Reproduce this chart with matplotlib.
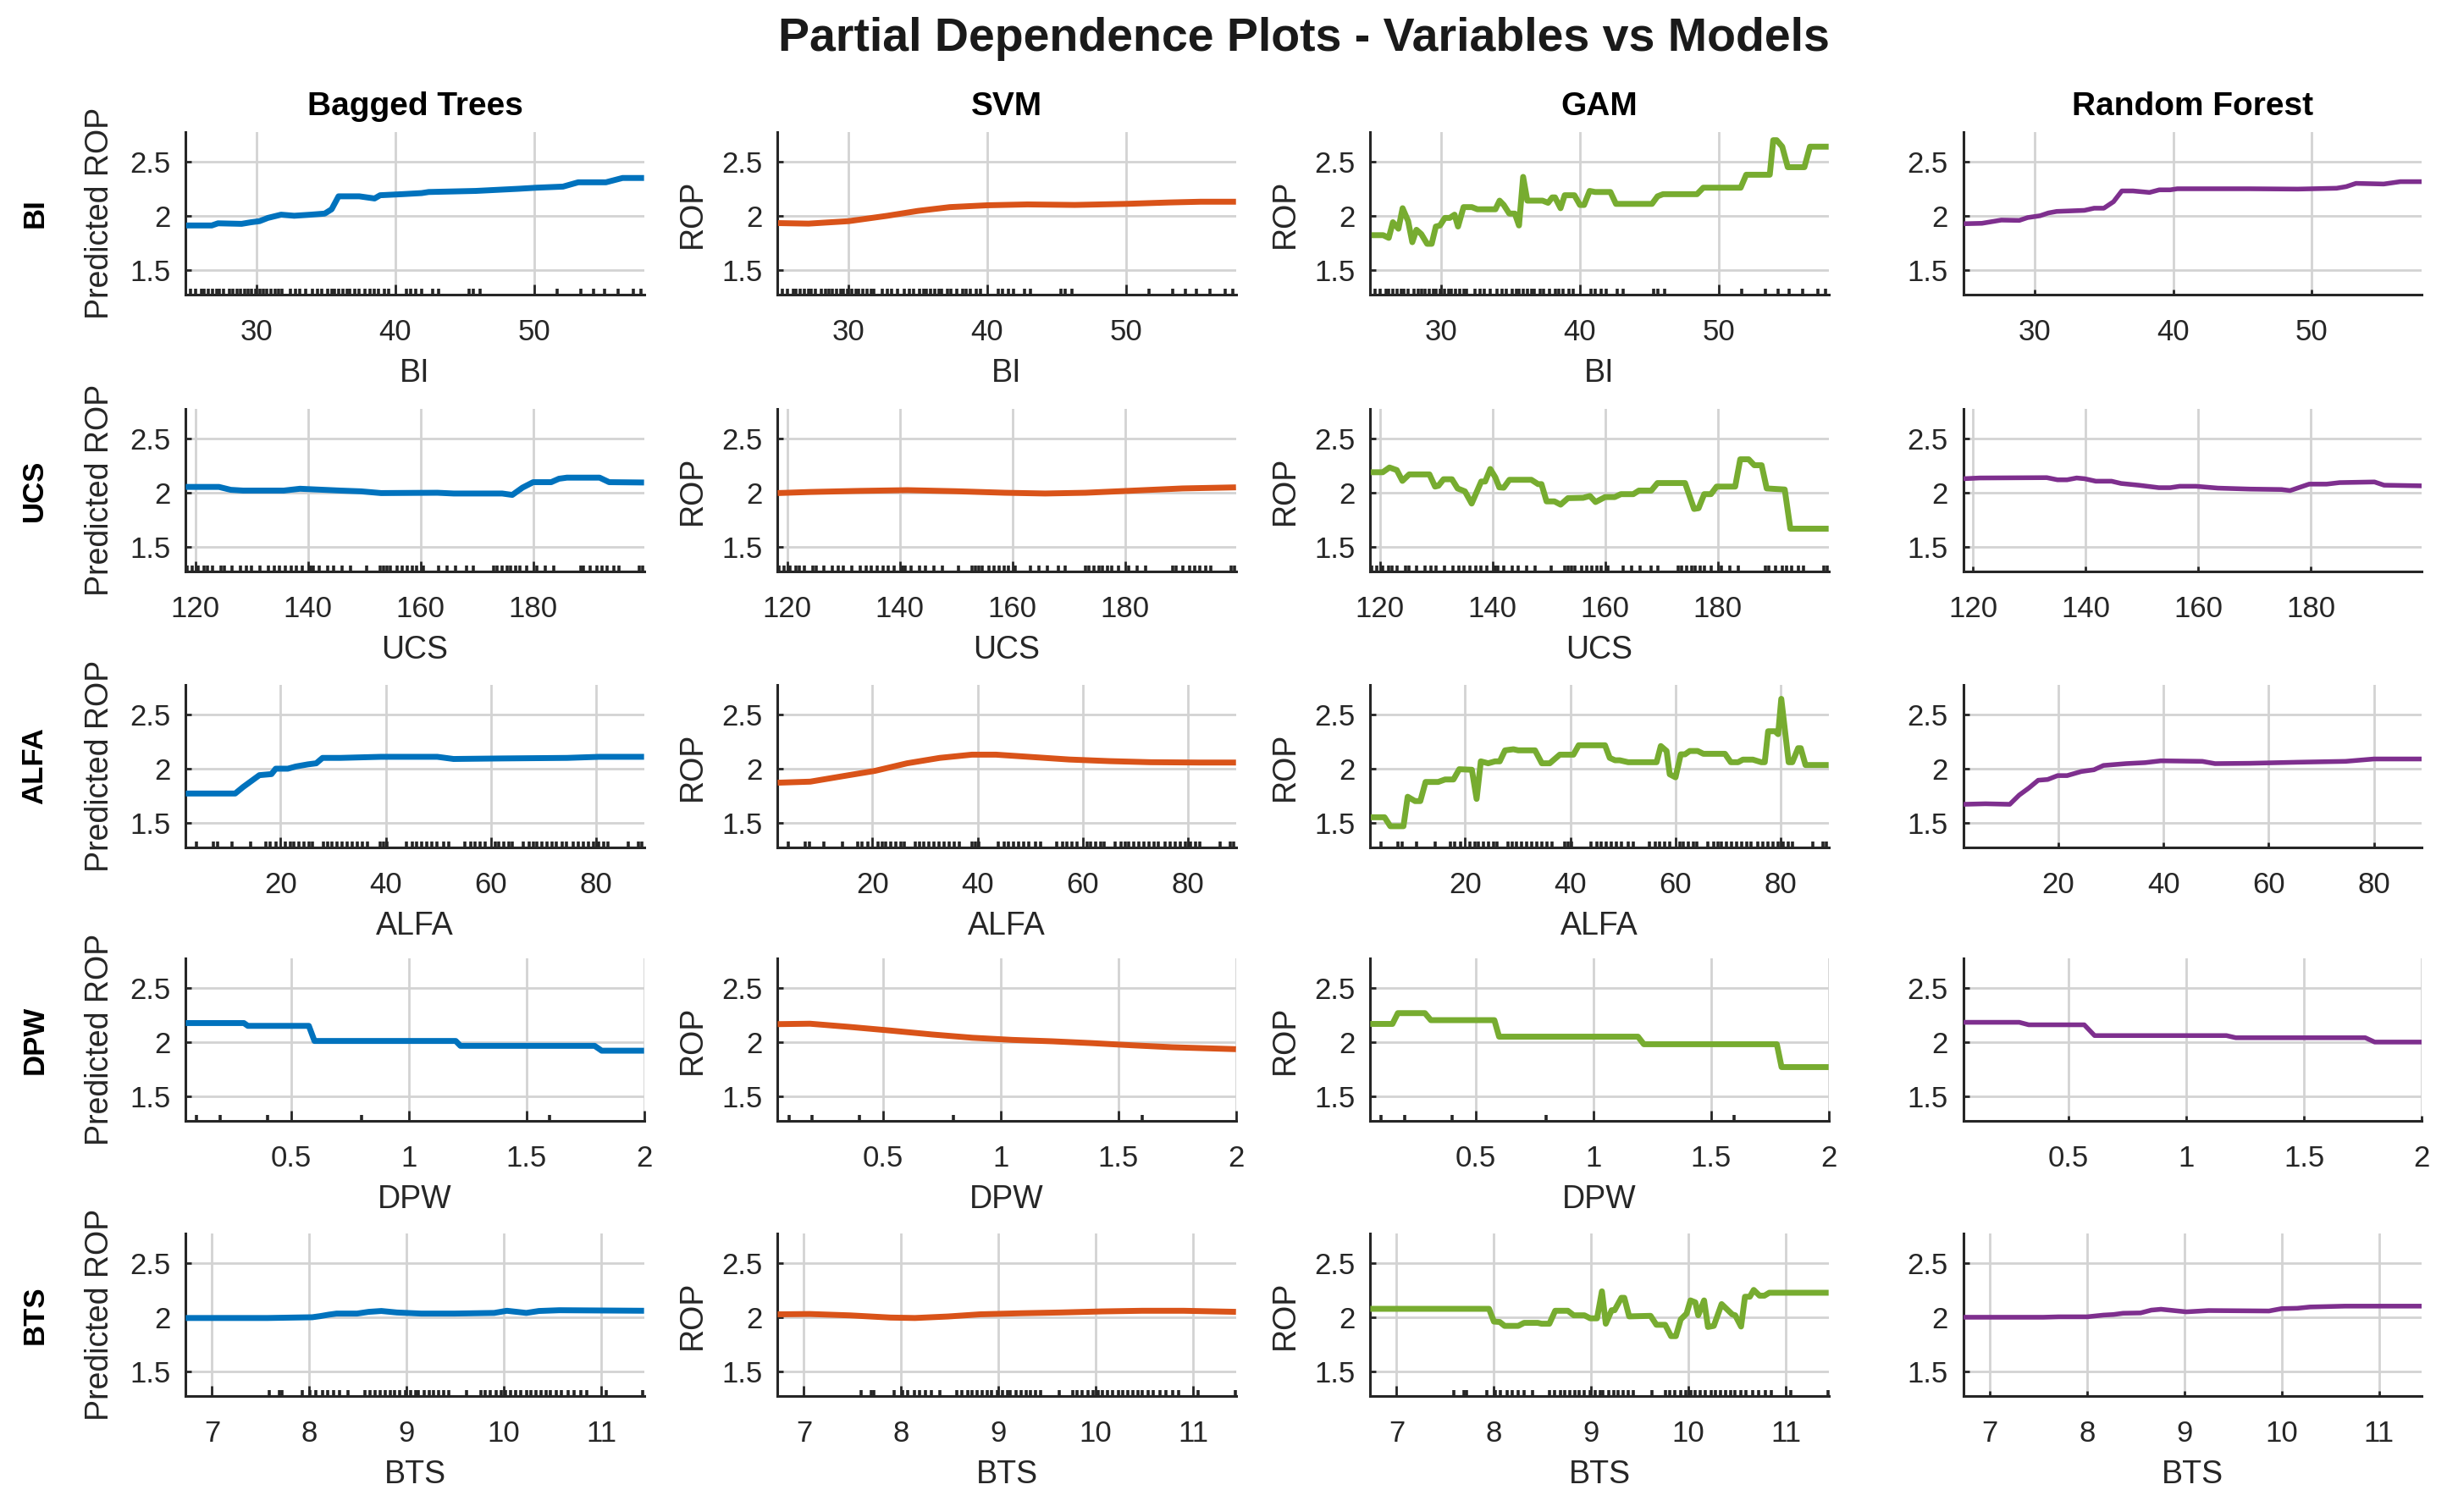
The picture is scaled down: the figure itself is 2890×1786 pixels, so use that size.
import matplotlib
matplotlib.use('Agg')
import matplotlib.pyplot as plt
from matplotlib.ticker import FixedLocator, FormatStrFormatter

plt.rcParams['font.family'] = ['Liberation Sans', 'DejaVu Sans']

# ---------------- data ----------------
variables = ['BI', 'UCS', 'ALFA', 'DPW', 'BTS']
models = ['Bagged Trees', 'SVM', 'GAM', 'Random Forest']
model_colors = ['#0072BD', '#D95319', '#77AC30', '#7E2F8E']
ylabels = ['Predicted ROP', 'ROP', 'ROP', '']

x_limits = [(24.87, 57.95), (118.3, 199.7), (2.0, 89.1), (0.053, 2.0), (6.73, 11.44)]
x_ticks = [[30, 40, 50], [120, 140, 160, 180], [20, 40, 60, 80], [0.5, 1, 1.5, 2], [7, 8, 9, 10, 11]]
y_limits = (1.27, 2.776)
y_ticks = [1.5, 2, 2.5]

# BI
bt_bi_x = [24.9, 26.75, 27.2, 28.9, 29.6, 30.2, 30.8, 31.75, 32.7, 33.9, 34.9, 35.4, 35.9, 37.4, 38.5, 38.9, 40.5, 41.9, 42.4, 45.8, 48.9, 50.2, 52.1, 53.2, 55.2, 55.8, 56.4, 57.95]
bt_bi_y = [1.91, 1.91, 1.93, 1.925, 1.94, 1.95, 1.98, 2.01, 2.00, 2.01, 2.02, 2.06, 2.18, 2.18, 2.16, 2.19, 2.20, 2.21, 2.22, 2.23, 2.25, 2.26, 2.27, 2.31, 2.31, 2.33, 2.35, 2.35]
svm_bi_x = [24.9, 27.1, 30.0, 32.8, 35.0, 37.3, 40.0, 42.9, 46.3, 50.0, 53.1, 55.4, 57.95]
svm_bi_y = [1.932, 1.927, 1.95, 2.0, 2.045, 2.08, 2.097, 2.105, 2.10, 2.11, 2.123, 2.13, 2.13]
gam_bi_x = [24.96, 25.8, 26.2, 26.5, 26.9, 27.2, 27.6, 27.9, 28.2, 28.55, 28.97, 29.3, 29.6, 29.9, 30.25, 30.6, 30.95, 31.2, 31.6, 32.2, 32.6, 33.9, 34.2, 34.5, 34.9, 35.3, 35.6, 35.9, 36.2, 37.3, 37.7, 38.0, 38.2, 38.6, 38.9, 39.6, 40.0, 40.3, 40.7, 41.1, 42.2, 42.6, 45.2, 45.6, 46.0, 48.45, 48.9, 51.6, 52.0, 53.7, 53.95, 54.2, 54.6, 55.0, 56.2, 56.6, 57.95]
gam_bi_y = [1.82, 1.82, 1.795, 1.94, 1.88, 2.07, 1.95, 1.755, 1.87, 1.83, 1.74, 1.74, 1.90, 1.91, 1.98, 1.98, 2.01, 1.90, 2.08, 2.08, 2.06, 2.06, 2.14, 2.10, 2.02, 2.02, 1.91, 2.36, 2.14, 2.14, 2.12, 2.17, 2.17, 2.07, 2.19, 2.19, 2.10, 2.10, 2.23, 2.22, 2.22, 2.11, 2.11, 2.18, 2.20, 2.20, 2.26, 2.26, 2.38, 2.38, 2.70, 2.70, 2.64, 2.45, 2.45, 2.64, 2.64]
rf_bi_x = [24.9, 26.2, 27.6, 28.9, 29.5, 30.4, 31.0, 31.6, 33.6, 34.3, 35.0, 35.7, 36.3, 37.1, 38.3, 39.0, 39.8, 40.3, 45.5, 49.0, 51.8, 52.5, 53.2, 55.2, 56.4, 57.95]
rf_bi_y = [1.926, 1.93, 1.96, 1.957, 1.983, 2.0, 2.026, 2.04, 2.05, 2.07, 2.07, 2.13, 2.23, 2.23, 2.216, 2.24, 2.24, 2.25, 2.25, 2.247, 2.255, 2.27, 2.30, 2.294, 2.316, 2.316]

# UCS
bt_ucs_x = [118.3, 124.2, 126.3, 128.5, 135.7, 138.6, 145.8, 149.4, 153.0, 163.0, 165.9, 174.5, 176.3, 178.1, 180.0, 183.2, 184.6, 186.0, 191.8, 193.5, 199.7]
bt_ucs_y = [2.054, 2.054, 2.027, 2.02, 2.02, 2.037, 2.02, 2.013, 1.997, 2.0, 1.993, 1.993, 1.98, 2.047, 2.098, 2.098, 2.13, 2.14, 2.14, 2.098, 2.095]
svm_ucs_x = [118.3, 124.0, 132.7, 141.3, 149.9, 158.6, 165.8, 173.0, 181.6, 190.2, 199.7]
svm_ucs_y = [1.997, 2.007, 2.017, 2.024, 2.014, 2.0, 1.993, 2.0, 2.02, 2.04, 2.05]
gam_ucs_x = [118.4, 120.5, 121.7, 123.0, 124.0, 125.2, 128.8, 129.8, 130.4, 131.3, 132.8, 133.8, 135.1, 136.3, 138.0, 138.7, 139.6, 140.5, 141.2, 142.0, 143.0, 146.9, 148.1, 148.7, 149.6, 151.0, 152.1, 153.4, 156.1, 157.3, 158.3, 160.0, 161.7, 162.8, 165.0, 166.0, 168.2, 169.3, 174.2, 175.8, 176.6, 177.6, 178.8, 179.8, 183.1, 184.0, 185.5, 186.5, 187.8, 188.7, 191.9, 192.9, 199.7]
gam_ucs_y = [2.19, 2.19, 2.234, 2.21, 2.11, 2.17, 2.17, 2.057, 2.065, 2.125, 2.125, 2.04, 2.013, 1.90, 2.104, 2.104, 2.22, 2.143, 2.05, 2.047, 2.12, 2.12, 2.08, 2.08, 1.92, 1.92, 1.89, 1.95, 1.953, 1.97, 1.914, 1.96, 1.96, 1.987, 1.987, 2.02, 2.02, 2.09, 2.09, 1.85, 1.857, 1.987, 1.987, 2.057, 2.057, 2.31, 2.31, 2.255, 2.255, 2.04, 2.03, 1.667, 1.667]
rf_ucs_x = [118.3, 121.2, 133.1, 135.0, 136.7, 138.4, 139.8, 141.8, 144.6, 146.3, 149.4, 153.0, 155.0, 156.7, 159.6, 163.5, 169.2, 174.8, 176.3, 179.7, 182.8, 185.1, 191.3, 193.0, 199.7]
rf_ucs_y = [2.13, 2.137, 2.14, 2.12, 2.12, 2.137, 2.13, 2.107, 2.107, 2.086, 2.07, 2.047, 2.047, 2.06, 2.06, 2.043, 2.034, 2.03, 2.02, 2.08, 2.08, 2.094, 2.10, 2.07, 2.064]

# ALFA
bt_alfa_x = [2.0, 11.4, 12.9, 16.0, 18.3, 19.1, 21.4, 22.9, 25.2, 26.8, 28.0, 31.4, 39.1, 49.8, 52.9, 62.2, 74.5, 80.6, 89.1]
bt_alfa_y = [1.77, 1.77, 1.83, 1.94, 1.95, 2.0, 2.0, 2.02, 2.04, 2.05, 2.10, 2.10, 2.11, 2.11, 2.09, 2.095, 2.10, 2.11, 2.11]
svm_alfa_x = [2.0, 8.2, 14.3, 20.5, 26.6, 32.8, 38.9, 43.5, 49.7, 57.4, 65.1, 72.8, 82.0, 89.1]
svm_alfa_y = [1.87, 1.88, 1.93, 1.98, 2.05, 2.10, 2.13, 2.13, 2.11, 2.085, 2.07, 2.06, 2.057, 2.057]
gam_alfa_x = [2.1, 4.7, 5.8, 8.3, 9.1, 10.5, 11.5, 12.5, 14.9, 16.2, 17.8, 18.9, 21.3, 22.2, 23.0, 24.4, 25.7, 26.6, 27.6, 29.2, 30.1, 33.3, 34.6, 36.1, 38.0, 40.6, 41.6, 46.6, 47.5, 48.5, 49.4, 51.0, 56.4, 57.2, 58.3, 58.9, 60.0, 61.0, 61.8, 62.7, 64.2, 65.3, 69.4, 70.5, 71.9, 72.8, 74.7, 76.3, 76.96, 77.6, 78.9, 79.5, 80.1, 81.5, 82.2, 83.3, 83.8, 84.7, 89.1]
gam_alfa_y = [1.55, 1.55, 1.467, 1.467, 1.74, 1.70, 1.70, 1.877, 1.877, 1.90, 1.90, 1.995, 1.99, 1.72, 2.068, 2.05, 2.068, 2.068, 2.17, 2.18, 2.17, 2.17, 2.05, 2.05, 2.13, 2.13, 2.217, 2.217, 2.10, 2.078, 2.078, 2.06, 2.06, 2.21, 2.164, 1.948, 1.92, 2.133, 2.133, 2.164, 2.164, 2.138, 2.138, 2.06, 2.06, 2.084, 2.084, 2.06, 2.06, 2.347, 2.347, 2.32, 2.647, 2.06, 2.06, 2.19, 2.19, 2.034, 2.034]
rf_alfa_x = [2.0, 6.2, 10.8, 12.6, 14.4, 16.2, 18.0, 19.9, 21.7, 24.4, 26.8, 28.6, 32.9, 36.5, 39.5, 47.4, 49.8, 56.5, 65.5, 74.6, 80.0, 89.1]
rf_alfa_y = [1.67, 1.675, 1.67, 1.756, 1.82, 1.893, 1.90, 1.936, 1.936, 1.974, 1.99, 2.03, 2.047, 2.056, 2.073, 2.068, 2.047, 2.05, 2.06, 2.068, 2.09, 2.09]

# DPW
bt_dpw_x = [0.053, 0.30, 0.317, 0.576, 0.60, 1.20, 1.22, 1.79, 1.82, 2.0]
bt_dpw_y = [2.176, 2.176, 2.15, 2.15, 2.01, 2.01, 1.965, 1.965, 1.92, 1.92]
svm_dpw_x = [0.053, 0.19, 0.36, 0.53, 0.71, 0.88, 1.05, 1.22, 1.39, 1.56, 1.73, 2.0]
svm_dpw_y = [2.166, 2.17, 2.14, 2.107, 2.07, 2.04, 2.02, 2.007, 1.99, 1.97, 1.952, 1.934]
gam_dpw_x = [0.053, 0.147, 0.17, 0.285, 0.31, 0.58, 0.60, 1.19, 1.215, 1.78, 1.80, 2.0]
gam_dpw_y = [2.168, 2.168, 2.268, 2.268, 2.203, 2.203, 2.05, 2.05, 1.98, 1.98, 1.768, 1.768]
rf_dpw_x = [0.053, 0.29, 0.33, 0.566, 0.61, 1.17, 1.21, 1.76, 1.80, 2.0]
rf_dpw_y = [2.183, 2.183, 2.16, 2.16, 2.06, 2.06, 2.04, 2.04, 2.0, 2.0]

# BTS
bt_bts_x = [6.73, 7.57, 8.03, 8.11, 8.2, 8.28, 8.49, 8.61, 8.74, 8.9, 9.15, 9.49, 9.9, 10.03, 10.23, 10.36, 10.57, 11.44]
bt_bts_y = [1.993, 1.993, 2.0, 2.01, 2.024, 2.034, 2.034, 2.05, 2.058, 2.044, 2.034, 2.034, 2.04, 2.06, 2.04, 2.058, 2.065, 2.06]
svm_bts_x = [6.73, 7.06, 7.48, 7.89, 8.14, 8.48, 8.81, 9.23, 9.64, 10.06, 10.48, 10.9, 11.44]
svm_bts_y = [2.027, 2.03, 2.017, 1.997, 1.993, 2.007, 2.027, 2.037, 2.044, 2.054, 2.06, 2.06, 2.05]
gam_bts_x = [6.73, 7.95, 8.0, 8.06, 8.11, 8.25, 8.31, 8.45, 8.49, 8.57, 8.63, 8.76, 8.82, 8.93, 8.99, 9.06, 9.11, 9.15, 9.21, 9.24, 9.31, 9.34, 9.39, 9.61, 9.67, 9.76, 9.82, 9.87, 9.92, 9.98, 10.02, 10.07, 10.1, 10.16, 10.2, 10.26, 10.34, 10.45, 10.48, 10.54, 10.58, 10.63, 10.67, 10.73, 10.78, 10.83, 11.44]
gam_bts_y = [2.078, 2.078, 1.96, 1.956, 1.92, 1.92, 1.948, 1.948, 1.94, 1.94, 2.06, 2.06, 2.018, 2.018, 1.99, 1.99, 2.24, 1.94, 2.065, 2.065, 2.18, 2.18, 2.008, 2.013, 1.93, 1.93, 1.825, 1.825, 1.98, 2.034, 2.156, 2.138, 2.018, 2.156, 1.91, 1.92, 2.122, 2.026, 2.018, 1.914, 2.19, 2.19, 2.253, 2.20, 2.20, 2.227, 2.227]
rf_bts_x = [6.73, 7.55, 7.71, 8.0, 8.17, 8.27, 8.37, 8.55, 8.66, 8.76, 9.02, 9.25, 9.87, 10.0, 10.16, 10.29, 10.65, 11.44]
rf_bts_y = [2.0, 2.0, 2.004, 2.004, 2.02, 2.025, 2.037, 2.04, 2.066, 2.074, 2.05, 2.062, 2.058, 2.08, 2.083, 2.095, 2.103, 2.103]

# rug (observed data values) per variable
bi_rug = [25.2, 25.6, 26.0, 26.2, 26.5, 26.8, 27.1, 27.3, 27.6, 28.0, 28.3, 28.6, 28.8, 29.1, 29.4, 29.6, 29.9, 30.2, 30.5, 30.7, 31.0, 31.3, 31.6, 31.8, 32.4, 32.8, 33.1, 33.5, 34.0, 34.4, 34.7, 35.1, 35.4, 35.6, 35.9, 36.2, 36.5, 36.7, 37.1, 37.4, 37.8, 38.2, 38.5, 38.8, 39.2, 39.5, 40.8, 41.1, 41.5, 41.9, 42.7, 43.1, 45.3, 45.6, 46.1, 51.7, 53.4, 54.3, 55.1, 56.1, 57.2, 57.7]
ucs_rug = [118.5, 119.5, 120.5, 121.5, 122.2, 123.0, 124.5, 125.2, 126.5, 128.0, 129.0, 130.0, 131.5, 133.0, 134.0, 135.0, 136.0, 137.0, 138.0, 139.0, 140.5, 141.0, 142.0, 143.5, 144.5, 146.0, 147.5, 150.4, 152.8, 153.4, 154.0, 154.6, 155.8, 156.7, 157.6, 158.5, 159.3, 160.5, 163.2, 164.7, 166.2, 168.2, 169.4, 173.0, 173.6, 174.5, 175.4, 176.0, 176.9, 177.7, 178.9, 180.7, 182.2, 183.7, 188.4, 189.0, 190.2, 191.4, 192.3, 193.2, 194.4, 195.3, 198.8, 199.4]
alfa_rug = [4.0, 7.2, 8.1, 10.8, 14.3, 17.2, 18.1, 19.1, 21.0, 21.9, 22.5, 23.5, 24.4, 25.4, 26.0, 28.2, 28.9, 29.8, 30.8, 31.7, 32.7, 33.6, 34.6, 35.5, 36.5, 39.0, 39.6, 40.3, 44.0, 45.0, 45.9, 46.9, 47.8, 48.8, 49.7, 51.0, 52.0, 55.1, 56.1, 57.0, 58.0, 58.9, 60.8, 61.5, 62.4, 63.4, 64.0, 66.2, 67.2, 68.1, 68.7, 69.7, 70.6, 71.6, 72.5, 73.5, 74.4, 75.7, 76.6, 77.6, 78.5, 79.5, 80.4, 81.4, 82.3, 86.1, 88.0, 88.7]
dpw_rug = [0.1, 0.2, 0.4, 0.5, 0.8, 1.0, 1.5, 1.6, 2.0]
bts_rug = [7.0, 7.59, 7.69, 7.72, 7.93, 8.01, 8.07, 8.14, 8.19, 8.25, 8.31, 8.4, 8.57, 8.62, 8.68, 8.73, 8.78, 8.83, 8.88, 8.93, 8.99, 9.04, 9.09, 9.12, 9.18, 9.23, 9.28, 9.33, 9.38, 9.43, 9.62, 9.76, 9.81, 9.86, 9.92, 9.97, 10.02, 10.07, 10.12, 10.17, 10.23, 10.28, 10.33, 10.38, 10.43, 10.48, 10.54, 10.59, 10.66, 10.72, 10.79, 10.85, 11.0, 11.05, 11.43]

curves = [
    [(bt_bi_x, bt_bi_y), (svm_bi_x, svm_bi_y), (gam_bi_x, gam_bi_y), (rf_bi_x, rf_bi_y)],
    [(bt_ucs_x, bt_ucs_y), (svm_ucs_x, svm_ucs_y), (gam_ucs_x, gam_ucs_y), (rf_ucs_x, rf_ucs_y)],
    [(bt_alfa_x, bt_alfa_y), (svm_alfa_x, svm_alfa_y), (gam_alfa_x, gam_alfa_y), (rf_alfa_x, rf_alfa_y)],
    [(bt_dpw_x, bt_dpw_y), (svm_dpw_x, svm_dpw_y), (gam_dpw_x, gam_dpw_y), (rf_dpw_x, rf_dpw_y)],
    [(bt_bts_x, bt_bts_y), (svm_bts_x, svm_bts_y), (gam_bts_x, gam_bts_y), (rf_bts_x, rf_bts_y)],
]
rugs = [bi_rug, ucs_rug, alfa_rug, dpw_rug, bts_rug]

# ---------------- layout ----------------
fig = plt.figure(figsize=(14.45, 8.93), dpi=200)
col_left = [0.0759, 0.3178, 0.5600, 0.8024]
row_bottom = [0.8052, 0.6220, 0.4395, 0.2587, 0.0767]
W, H = 0.1873, 0.1075
dark = '#262626'
grid_c = '#d3d3d3'

for r, var in enumerate(variables):
    for c, model in enumerate(models):
        ax = fig.add_axes([col_left[c], row_bottom[r], W, H])
        x, y = curves[r][c]
        lw = 2.0 if c == 3 else 2.5
        ax.plot(x, y, color=model_colors[c], lw=lw, solid_joinstyle='round', solid_capstyle='butt', zorder=3)
        ax.set_xlim(*x_limits[r])
        ax.set_ylim(*y_limits)
        ax.set_xticks(x_ticks[r])
        ax.set_yticks(y_ticks)
        ax.xaxis.set_major_formatter(FormatStrFormatter('%g'))
        ax.yaxis.set_major_formatter(FormatStrFormatter('%g'))
        ax.grid(True, which='major', color=grid_c, lw=1.0)
        ax.set_axisbelow(True)
        for s in ['top', 'right']:
            ax.spines[s].set_visible(False)
        for s in ['left', 'bottom']:
            ax.spines[s].set_color(dark)
            ax.spines[s].set_linewidth(1.1)
        ax.tick_params(axis='y', direction='in', length=2.4, width=1.0, color=dark,
                       labelcolor=dark, labelsize=12.5, pad=6.5)
        if c < 3:
            ax.xaxis.set_minor_locator(FixedLocator(rugs[r]))
            ax.tick_params(axis='x', which='major', direction='in', length=4.3, width=1.0,
                           color=dark, labelcolor=dark, labelsize=12.5, pad=10)
            ax.tick_params(axis='x', which='minor', direction='in', length=2.5, width=1.3,
                           color=dark)
        else:
            ax.tick_params(axis='x', which='major', direction='in', length=2.3, width=1.0,
                           color=dark, labelcolor=dark, labelsize=12.5, pad=10)
        if c < 3 or r == len(variables) - 1:
            ax.set_xlabel(var, fontsize=13.5, color=dark, labelpad=5)
        if ylabels[c]:
            ax.set_ylabel(ylabels[c], fontsize=13.5, color=dark, labelpad=6)
        if r == 0:
            fig.text(col_left[c] + W / 2, 0.9295, model, fontsize=14, fontweight='bold',
                     ha='center', va='center', color='black')
        if c == 0:
            fig.text(0.0141, row_bottom[r] + H / 2, var, fontsize=12.5, fontweight='bold',
                     rotation=90, ha='center', va='center', color='black')

fig.text(0.533, 0.974, 'Partial Dependence Plots - Variables vs Models', fontsize=20,
         fontweight='bold', ha='center', va='center', color='#1a1a1a')

fig.savefig('out.png', dpi=200, facecolor='white')
